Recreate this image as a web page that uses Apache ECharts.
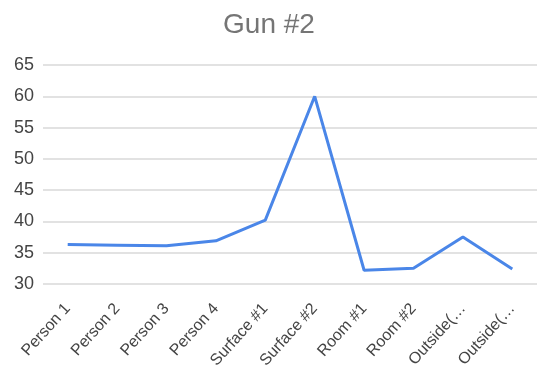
<!DOCTYPE html>
<html>
<head>
<meta charset="utf-8">
<script src="https://cdn.jsdelivr.net/npm/echarts@6/dist/echarts.min.js"></script>
<style>
  html, body { margin: 0; padding: 0; background: #fff; }
  #chart { width: 538px; height: 373px; }
</style>
</head>
<body>
<div id="chart"></div>
<script>
// Sample locations along the x axis
const categories = ['Person 1', 'Person 2', 'Person 3', 'Person 4', 'Surface #1',
  'Surface #2', 'Room #1', 'Room #2', 'Outside(…', 'Outside(…'];
// Readings for Gun #2
const readings = [36.3, 36.2, 36.1, 36.9, 40.2, 60.0, 32.2, 32.5, 37.5, 32.4];
// Value axis range
const yMin = 30;
const yMax = 65;
const yStep = 5;

const FONT = "'Liberation Sans', Arial, sans-serif";

const chart = echarts.init(document.getElementById('chart'), null, { renderer: 'canvas' });
chart.setOption({
  animation: false,
  title: {
    text: 'Gun #2',
    left: 'center',
    top: 6,
    textStyle: { fontFamily: FONT, fontSize: 28, fontWeight: 'normal', color: '#757575' }
  },
  grid: { left: 43, right: 1, top: 65, bottom: 89, containLabel: false },
  xAxis: {
    type: 'category',
    data: categories.map((c, i) => i),
    boundaryGap: true,
    axisLine: { show: false },
    axisTick: { show: false },
    axisLabel: {
      interval: 0,
      rotate: 48,
      margin: 22,
      fontFamily: FONT,
      fontSize: 16,
      color: '#444',
      formatter: (v) => categories[v]
    }
  },
  yAxis: {
    type: 'value',
    min: yMin,
    max: yMax,
    interval: yStep,
    axisLine: { show: false },
    axisTick: { show: false },
    splitLine: { lineStyle: { color: '#d9d9d9', width: 1.5 } },
    axisLabel: { fontFamily: FONT, fontSize: 18, color: '#444', margin: 9 }
  },
  series: [{
    type: 'line',
    data: readings,
    symbol: 'none',
    lineStyle: { color: '#4a86e8', width: 3 }
  }]
});
</script>
</body>
</html>
